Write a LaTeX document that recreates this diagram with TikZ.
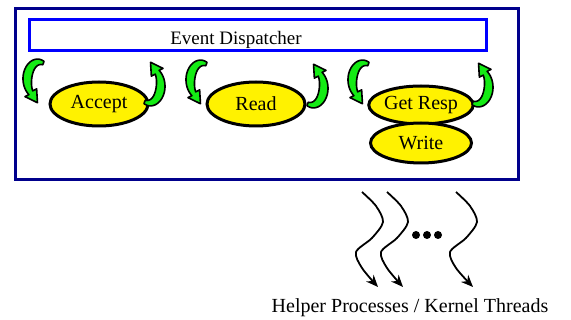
\documentclass[tikz,border=0pt]{standalone}
\usepackage{fontspec}
\setmainfont{Liberation Serif}
\usetikzlibrary{arrows.meta,shapes.geometric}
\definecolor{framenavy}{RGB}{0,0,140}
\definecolor{dispblue}{RGB}{0,0,255}
\definecolor{curlgreen}{RGB}{20,235,20}
\tikzset{
  declare function={cw(\t)=1.8+2.7*sin(1.032*(290-\t));},
  stage/.style={ellipse, draw=black, line width=3pt, fill=yellow, inner sep=0pt,
    font=\fontsize{20}{24}\selectfont},
  curlband/.style={fill=curlgreen, draw=black, line width=1.6pt, line join=round},
  wave/.style={line width=1.8pt, -{Stealth[length=12pt,width=10pt]}},
  dot/.style={circle, fill=black, minimum size=8pt, inner sep=0pt},
  % curved block arrow: a crescent running down the left side,
  % its head pointing down and to the right
  curl/.pic={
    \path[curlband]
      plot[domain=290:135,samples=30] ({(12+cw(\x))*cos(\x)},{(18+cw(\x))*sin(\x)})
      -- (-14.31,16.62) -- (-1.83,22.71) -- (-2.67,8.84)
      -- plot[domain=135:290,samples=30] ({(12-cw(\x))*cos(\x)},{(18-cw(\x))*sin(\x)})
      -- cycle;
  }
}
\begin{document}
\begin{tikzpicture}[x=1pt,y=-1pt]
\useasboundingbox (0,0) rectangle (571,320);

% process frame and dispatcher
\node (frame) [draw=framenavy, line width=3pt, minimum width=503pt, minimum height=171pt,
  inner sep=0pt] at (267,94) {};
\node (disp) [draw=dispblue, line width=3pt, minimum width=457pt, minimum height=31pt,
  inner sep=0pt] at (258,35) {};
\node (disptext) [anchor=base, font=\fontsize{19}{23}\selectfont] at (236,45) {Event Dispatcher};

% stages
\node (acc) [stage, minimum width=98pt, minimum height=44pt] at (99,104) {Accept};
\node (rd)  [stage, minimum width=98pt, minimum height=44pt] at (256,104) {Read};
\node (gr)  [stage, minimum width=99pt, minimum height=38pt] at (421,105) {Get Resp};
\node (wr)  [stage, minimum width=101pt, minimum height=40pt] at (421,143) {Write};

% green loop arrows around each stage
\pic at (39.3,80) {curl};
\pic[rotate=180] at (148.7,85) {curl};
\pic at (202.3,81) {curl};
\pic[rotate=180] at (311.7,87) {curl};
\pic at (364.3,81) {curl};
\pic[rotate=180] at (476.7,86) {curl};

% helper threads
\coordinate (w1s) at (362,192);
\coordinate (w1e) at (378,287);
\coordinate (w2s) at (387,192);
\coordinate (w2e) at (403,287);
\coordinate (w3s) at (456,192);
\coordinate (w3e) at (473,287);
\draw[wave] plot[smooth] coordinates {(w1s) (376,206) (383,222) (372,238) (356,252) (362,268) (w1e)};
\draw[wave] plot[smooth] coordinates {(w2s) (401,206) (408,222) (397,238) (381,252) (387,268) (w2e)};
\draw[wave] plot[smooth] coordinates {(w3s) (470,206) (477,222) (466,238) (450,252) (456,268) (w3e)};
\node (d1) [dot] at (416,235) {};
\node (d2) [dot] at (427,235) {};
\node (d3) [dot] at (438,235) {};

\node (helpers) [anchor=base, font=\fontsize{20}{24}\selectfont] at (410,313)
  {Helper Processes / Kernel Threads};
\end{tikzpicture}
\end{document}
